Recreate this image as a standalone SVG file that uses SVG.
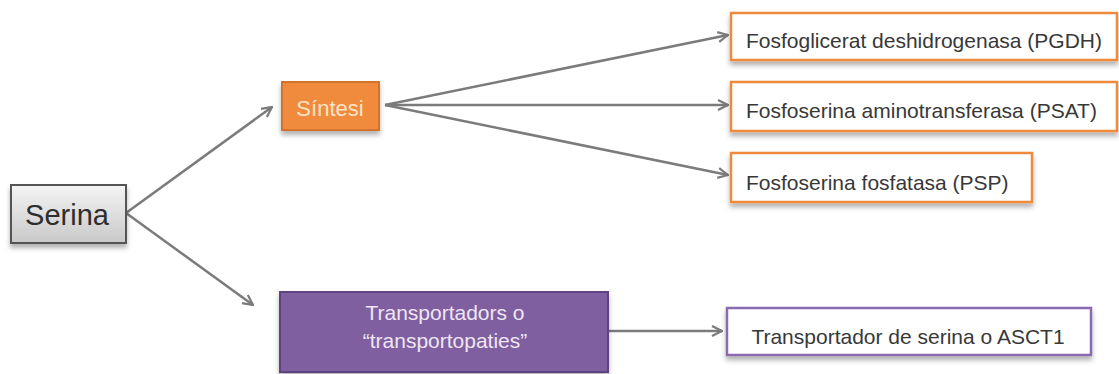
<svg xmlns="http://www.w3.org/2000/svg" width="1119" height="374" viewBox="0 0 1119 374">
  <style>
    .lbl { font-family: "Liberation Sans", Arial, sans-serif; }
    .conn { stroke: #7b7b7b; stroke-width: 2.5; fill: none; marker-end: url(#chev); }
    .orange { fill: #ffffff; stroke: #ee8a3c; stroke-width: 2.5; }
    .dark { fill: #383838; font-size: 21px; }
  </style>
  <defs>
    <marker id="chev" viewBox="0 0 12 12" refX="11" refY="6" markerWidth="12" markerHeight="12" markerUnits="userSpaceOnUse" orient="auto">
      <path d="M1,1 L11,6 L1,11" fill="none" stroke="#7b7b7b" stroke-width="2.2"/>
    </marker>
    <linearGradient id="grayFill" x1="0" y1="0" x2="0" y2="1">
      <stop offset="0" stop-color="#f4f4f4"/>
      <stop offset="1" stop-color="#c9c9c9"/>
    </linearGradient>
    <filter id="shadow" x="-10%" y="-20%" width="120%" height="150%">
      <feDropShadow dx="0" dy="4" stdDeviation="2.5" flood-color="#000" flood-opacity="0.3"/>
    </filter>
  </defs>

  <g id="connectors">
    <path class="conn" d="M126,213 L272,107"/>
    <path class="conn" d="M126,213 L253,305"/>
    <path class="conn" d="M385,105 L728,35"/>
    <path class="conn" d="M385,105 L728,105"/>
    <path class="conn" d="M385,105 L728,175"/>
    <path class="conn" d="M608,331 L722,331"/>
  </g>

  <g id="serina">
    <rect x="11" y="185" width="115" height="58" fill="url(#grayFill)" stroke="#555555" stroke-width="2" filter="url(#shadow)"/>
    <text class="lbl" x="67" y="225" font-size="29" fill="#2e2e2e" text-anchor="middle">Serina</text>
  </g>

  <g id="sintesi">
    <rect x="282" y="82" width="97" height="48" fill="#f08a3e" stroke="#d4722c" stroke-width="2" filter="url(#shadow)"/>
    <text class="lbl" x="330" y="116" font-size="22" fill="#fbe3c8" text-anchor="middle">Síntesi</text>
  </g>

  <g id="pgdh">
    <rect class="orange" x="731" y="13" width="386" height="47" filter="url(#shadow)"/>
    <text class="lbl dark" x="746" y="48">Fosfoglicerat deshidrogenasa (PGDH)</text>
  </g>

  <g id="psat">
    <rect class="orange" x="731" y="82" width="386" height="49" filter="url(#shadow)"/>
    <text class="lbl dark" x="746" y="118">Fosfoserina aminotransferasa (PSAT)</text>
  </g>

  <g id="psp">
    <rect class="orange" x="731" y="153" width="301" height="49" filter="url(#shadow)"/>
    <text class="lbl dark" x="746" y="190">Fosfoserina fosfatasa (PSP)</text>
  </g>

  <g id="transportadors">
    <rect x="280" y="292" width="328" height="80" fill="#7f5fa0" stroke="#5e4280" stroke-width="2" filter="url(#shadow)"/>
    <text class="lbl" x="445" y="320" font-size="21" fill="#eee6f4" text-anchor="middle">Transportadors o</text>
    <text class="lbl" x="445" y="348" font-size="21" fill="#eee6f4" text-anchor="middle">“transportopaties”</text>
  </g>

  <g id="asct1">
    <rect x="727" y="308" width="364" height="47" fill="#ffffff" stroke="#8a6bb0" stroke-width="2.5" filter="url(#shadow)"/>
    <text class="lbl dark" x="908" y="344" font-size="21.5" text-anchor="middle">Transportador de serina o ASCT1</text>
  </g>
</svg>
